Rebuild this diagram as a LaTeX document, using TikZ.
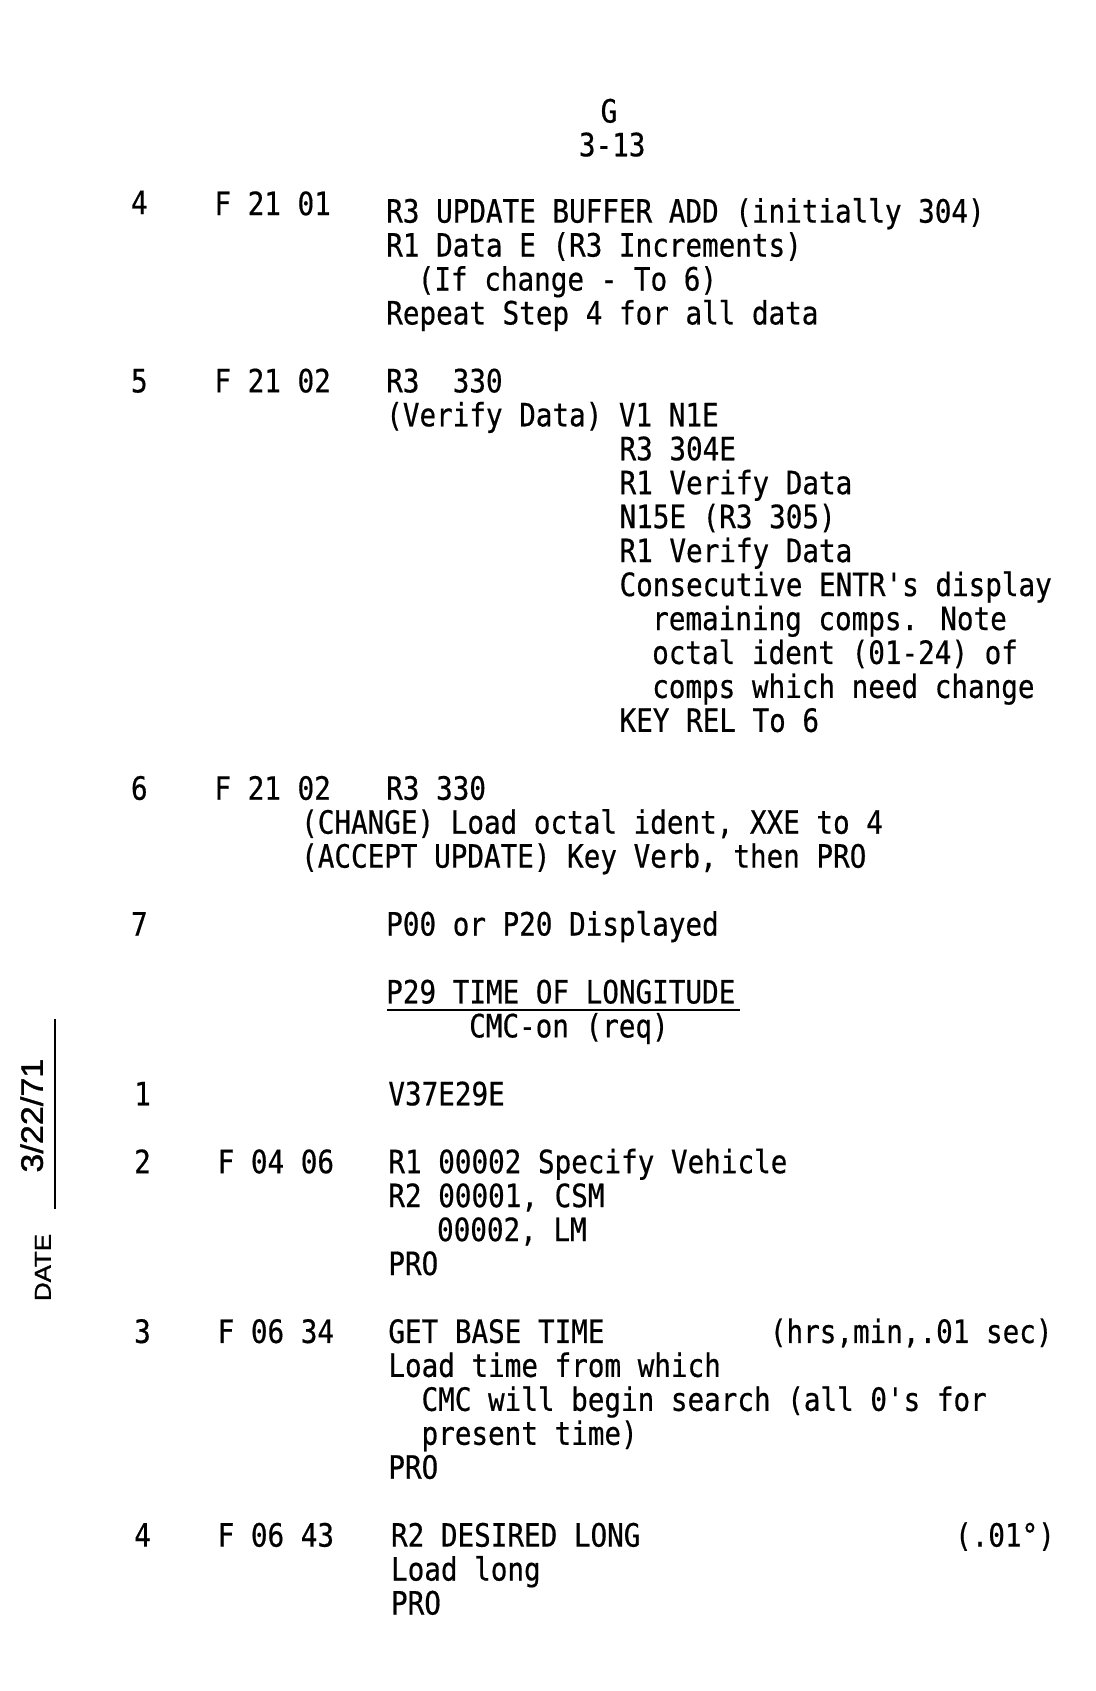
\documentclass[tikz,border=0pt]{standalone}
\usepackage{fontspec}
\newfontfamily\tw{DejaVu Sans Mono}[FakeStretch=0.86,FakeBold=0.5]
\newfontfamily\dtA{Liberation Sans}[FakeStretch=1.1,FakeBold=1.2]
\newfontfamily\dtB{Liberation Sans}[FakeStretch=1.12,FakeBold=1.2]
\begin{document}
\begin{tikzpicture}[x=0.5pt,y=-0.5pt,
  tw/.style={font=\tw\fontsize{15pt}{17pt}\selectfont, anchor=base west, inner sep=0pt, text=black},
  twc/.style={tw, anchor=base},
  datefont/.style={anchor=base west, inner sep=0pt, rotate=90},
  rule/.style={line width=1.2pt, black}]
\fill[white] (0,0) rectangle (1024,1580);
\useasboundingbox (0,0) rectangle (1024,1580);
% header
\node[twc] (hg) at (569,114.5) {G};
\node[twc] (hpage) at (572,146) {3-13};
% step 4
\node[tw] (s4n) at (122,200) {4};
\node[tw] (s4f) at (200,201) {F 21 01};
\node[tw] (s4a) at (360.5,{208+31.72*0}) {R3 UPDATE BUFFER ADD (initially 304)};
\node[tw] (s4b) at (360.5,{208+31.72*1}) {R1 Data E (R3 Increments)};
\node[tw] (s4c) at (390,{208+31.72*2}) {(If change - To 6)};
\node[tw] (s4d) at (360.5,{208+31.72*3}) {Repeat Step 4 for all data};
% step 5
\node[tw] (s5n) at (122,{208+31.72*5}) {5};
\node[tw] (s5f) at (200,{208+31.72*5}) {F 21 02};
\node[tw] (s5a) at (360.5,{208+31.72*5}) {R3\ \ 330};
\node[tw] (s5b) at (360.5,{208+31.72*6}) {(Verify Data) V1 N1E};
\node[tw] (s5c) at (578.5,{208+31.72*7}) {R3 304E};
\node[tw] (s5d) at (578.5,{208+31.72*8}) {R1 Verify Data};
\node[tw] (s5e) at (578.5,{208+31.72*9}) {N15E (R3 305)};
\node[tw] (s5f2) at (578.5,{208+31.72*10}) {R1 Verify Data};
\node[tw] (s5g) at (578.5,{208+31.72*11}) {Consecutive ENTR's display};
\node[tw] (s5h) at (609,{208+31.72*12}) {remaining comps. Note};
\node[tw] (s5i) at (609,{208+31.72*13}) {octal ident (01-24) of};
\node[tw] (s5j) at (609,{208+31.72*14}) {comps which need change};
\node[tw] (s5k) at (578.5,{208+31.72*15}) {KEY REL To 6};
% step 6
\node[tw] (s6n) at (122,{208+31.72*17}) {6};
\node[tw] (s6f) at (200,{208+31.72*17}) {F 21 02};
\node[tw] (s6a) at (360.5,{208+31.72*17}) {R3 330};
\node[tw] (s6b) at (281,{208+31.72*18}) {(CHANGE) Load octal ident, XXE to 4};
\node[tw] (s6c) at (281,{208+31.72*19}) {(ACCEPT UPDATE) Key Verb, then PRO};
% step 7
\node[tw] (s7n) at (122,{208+31.72*21}) {7};
\node[tw] (s7a) at (360.5,{208+31.72*21}) {P00 or P20 Displayed};
% P29 title
\node[tw] (p29) at (360.5,{208+31.72*23}) {P29 TIME OF LONGITUDE};
\coordinate (ulA) at (362,{208+31.72*23+6});
\coordinate (ulB) at (691,{208+31.72*23+6});
\draw[rule] (ulA) -- (ulB);
\node[tw] (cmc) at (438,{208+31.72*24}) {CMC-on (req)};
% P29 step 1
\node[tw] (t1n) at (125,{208+31.72*26}) {1};
\node[tw] (t1a) at (362.5,{208+31.72*26}) {V37E29E};
% step 2
\node[tw] (t2n) at (125,{208+31.72*28}) {2};
\node[tw] (t2f) at (203,{208+31.72*28}) {F 04 06};
\node[tw] (t2a) at (362.5,{208+31.72*28}) {R1 00002 Specify Vehicle};
\node[tw] (t2b) at (362.5,{208+31.72*29}) {R2 00001, CSM};
\node[tw] (t2c) at (408,{208+31.72*30}) {00002, LM};
\node[tw] (t2d) at (362.5,{208+31.72*31}) {PRO};
% step 3
\node[tw] (t3n) at (125,{208+31.72*33}) {3};
\node[tw] (t3f) at (203,{208+31.72*33}) {F 06 34};
\node[tw] (t3a) at (362.5,{208+31.72*33}) {GET BASE TIME};
\node[tw] (t3u) at (719,{208+31.72*33}) {(hrs,min,.01 sec)};
\node[tw] (t3b) at (362.5,{208+31.72*34}) {Load time from which};
\node[tw] (t3c) at (393.5,{208+31.72*35}) {CMC will begin search (all 0's for};
\node[tw] (t3d) at (393.5,{208+31.72*36}) {present time)};
\node[tw] (t3e) at (362.5,{208+31.72*37}) {PRO};
% step 4
\node[tw] (t4n) at (125,{208+31.72*39}) {4};
\node[tw] (t4f) at (203,{208+31.72*39}) {F 06 43};
\node[tw] (t4a) at (365,{208+31.72*39}) {R2 DESIRED LONG};
\node[tw] (t4u) at (892,{208+31.72*39}) {(.01°)};
\node[tw] (t4b) at (365,{208+31.72*40}) {Load long};
\node[tw] (t4c) at (365,{208+31.72*41}) {PRO};
% date margin
\coordinate (dlA) at (51,952);
\coordinate (dlB) at (51,1130);
\draw[line width=1pt] (dlA) -- (dlB);
\node[datefont, font=\dtA\fontsize{14.5pt}{16pt}\selectfont] (date) at (40,1096) {3/22/71};
\node[datefont, font=\dtB\fontsize{10.8pt}{12pt}\selectfont] (datel) at (47.5,1216) {DATE};
\end{tikzpicture}
\end{document}
